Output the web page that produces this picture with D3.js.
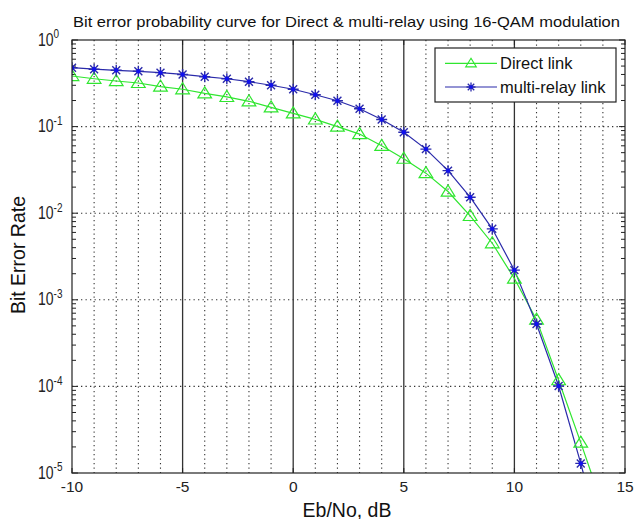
<!DOCTYPE html>
<html>
<head>
<meta charset="utf-8">
<script src="https://cdn.jsdelivr.net/npm/d3@7"></script>
<style>
html,body{margin:0;padding:0;background:#fff;}
svg{display:block;font-family:"Liberation Sans",Arial,sans-serif;}
</style>
</head>
<body>
<svg id="chart" width="635" height="519"></svg>
<script>
// ---- data ----
const ebno = [-10,-9,-8,-7,-6,-5,-4,-3,-2,-1,0,1,2,3,4,5,6,7,8,9,10,11,12,13,14];
const directLink = [0.384,0.357,0.336,0.319,0.29,0.27,0.242,0.22,0.196,0.167,0.142,0.121,0.100,0.082,0.060,0.0426,0.029,0.0178,0.0093,0.0045,0.00176,5.9e-4,1.18e-4,2.24e-5,4.1e-6];
const multiRelay = [0.479,0.46,0.447,0.435,0.42,0.40,0.377,0.357,0.33,0.30,0.27,0.233,0.199,0.161,0.121,0.086,0.055,0.031,0.0153,0.0066,0.0022,5.25e-4,1.01e-4,1.29e-5,1.4e-6];
const xTicks = [-10,-5,0,5,10,15];
const yExps = [0,-1,-2,-3,-4,-5];
const titleText = "Bit error probability curve for Direct & multi-relay using 16-QAM modulation";
const xLabel = "Eb/No, dB";
const yLabel = "Bit Error Rate";
const seriesNames = ["Direct link","multi-relay link"];

// ---- layout ----
const L = 72, R = 625, T = 40, B = 473;
const svg = d3.select("#chart");
const x = d3.scaleLinear().domain([-10,15]).range([L,R]);
const y = d3.scaleLog().domain([1e-5,1]).range([B,T]);

const green = "#2fe62f", blue = "#2a2aaa";

svg.append("rect").attr("width",635).attr("height",519).attr("fill","#fff");
svg.append("defs").append("clipPath").attr("id","clip")
  .append("rect").attr("x",L).attr("y",T).attr("width",R-L).attr("height",B-T);

// grid
const g = svg.append("g");
const intTicks = d3.range(-9,15);
g.selectAll("line.vd").data(intTicks.filter(d=>d%5!==0)).enter().append("line")
  .attr("x1",d=>x(d)).attr("x2",d=>x(d)).attr("y1",T).attr("y2",B)
  .attr("stroke","#333").attr("stroke-width",1.1).attr("stroke-dasharray","1.3,3.2");
g.selectAll("line.hd").data(yExps.slice(1,5)).enter().append("line")
  .attr("x1",L).attr("x2",R).attr("y1",d=>y(Math.pow(10,d))).attr("y2",d=>y(Math.pow(10,d)))
  .attr("stroke","#333").attr("stroke-width",1.1).attr("stroke-dasharray","1.3,3.2");
g.selectAll("line.vs").data([-5,0,5,10]).enter().append("line")
  .attr("x1",d=>x(d)).attr("x2",d=>x(d)).attr("y1",T).attr("y2",B)
  .attr("stroke","#333").attr("stroke-width",1.3);

// y ticks (major + minor) both sides
const minor = [];
for (let e=-5;e<0;e++) for (let m=2;m<=9;m++) minor.push(m*Math.pow(10,e));
const majors = yExps.map(e=>Math.pow(10,e));
[[L,1],[R,-1]].forEach(([x0,dir])=>{
  g.selectAll(null).data(minor).enter().append("line")
    .attr("x1",x0).attr("x2",x0+dir*4).attr("y1",d=>y(d)).attr("y2",d=>y(d))
    .attr("stroke","#222").attr("stroke-width",1);
  g.selectAll(null).data(majors).enter().append("line")
    .attr("x1",x0).attr("x2",x0+dir*6).attr("y1",d=>y(d)).attr("y2",d=>y(d))
    .attr("stroke","#222").attr("stroke-width",1);
});
[[B,-1],[T,1]].forEach(([y0,dir])=>{
  g.selectAll(null).data(xTicks).enter().append("line")
    .attr("x1",d=>x(d)).attr("x2",d=>x(d)).attr("y1",y0).attr("y2",y0+dir*5)
    .attr("stroke","#222").attr("stroke-width",1);
});

// series
const plot = svg.append("g").attr("clip-path","url(#clip)");
const line = d3.line().x(d=>x(d[0])).y(d=>y(d[1]));
const dataD = ebno.map((e,i)=>[e,directLink[i]]);
const dataM = ebno.map((e,i)=>[e,multiRelay[i]]);
plot.append("path").datum(dataD).attr("d",line).attr("fill","none").attr("stroke",green).attr("stroke-width",1.2);
plot.append("path").datum(dataM).attr("d",line).attr("fill","none").attr("stroke",blue).attr("stroke-width",1.2);

function triPath(s){ return `M0,${-s}L${s*1.05},${s*0.7}L${-s*1.05},${s*0.7}Z`; }
function starPath(s){ const d=s*0.72; return `M${-s},0L${s},0M0,${-s}L0,${s}M${-d},${-d}L${d},${d}M${-d},${d}L${d},${-d}`; }

plot.selectAll("path.tri").data(dataD).enter().append("path")
  .attr("transform",d=>`translate(${x(d[0])},${y(d[1])})`)
  .attr("d",triPath(6.5)).attr("fill","none").attr("stroke",green).attr("stroke-width",1.2);
plot.selectAll("path.star").data(dataM).enter().append("path")
  .attr("transform",d=>`translate(${x(d[0])},${y(d[1])})`)
  .attr("d",starPath(5.5)).attr("fill","none").attr("stroke",blue).attr("stroke-width",1.4);
plot.selectAll("circle.sc").data(dataM).enter().append("circle")
  .attr("cx",d=>x(d[0])).attr("cy",d=>y(d[1])).attr("r",2.2).attr("fill","#1010ee");

// frame
svg.append("rect").attr("x",L).attr("y",T).attr("width",R-L).attr("height",B-T)
  .attr("fill","none").attr("stroke","#222").attr("stroke-width",1.2);

// x tick labels
svg.selectAll("text.xt").data(xTicks).enter().append("text")
  .attr("x",d=>x(d)).attr("y",492).attr("text-anchor","middle")
  .attr("font-size",15.5).attr("fill","#222").text(d=>d);

// y tick labels
const yl = svg.selectAll("g.yt").data(yExps).enter().append("g")
  .attr("transform",d=>`translate(38,${y(Math.pow(10,d))+5.5}) scale(1,1.3)`);
const yt = yl.append("text").attr("font-size",14).attr("fill","#222");
yt.append("tspan").text("10");
yt.append("tspan").attr("font-size",10).attr("dy",-5.5).text(d=>d===0?"0":String(d));

// title and labels
svg.append("text").attr("x",346.5).attr("y",26.5).attr("text-anchor","middle")
  .attr("font-size",15).attr("fill","#111")
  .attr("textLength",547).attr("lengthAdjust","spacingAndGlyphs").text(titleText);
svg.append("text").attr("x",347).attr("y",516.5).attr("text-anchor","middle")
  .attr("font-size",19.5).attr("fill","#111").text(xLabel);
svg.append("text").attr("transform","translate(25,255) rotate(-90)").attr("text-anchor","middle")
  .attr("font-size",19.5).attr("fill","#111").text(yLabel);

// legend
const lg = svg.append("g");
lg.append("rect").attr("x",435).attr("y",48).attr("width",181).attr("height",54)
  .attr("fill","#fff").attr("stroke","#222").attr("stroke-width",1.2);
const lyD = 63.3, lyM = 87;
lg.append("line").attr("x1",445).attr("x2",497).attr("y1",lyD).attr("y2",lyD).attr("stroke",green).attr("stroke-width",1.2);
lg.append("path").attr("transform",`translate(471,${lyD})`).attr("d",triPath(5)).attr("fill","none").attr("stroke",green).attr("stroke-width",1.2);
lg.append("line").attr("x1",445).attr("x2",497).attr("y1",lyM).attr("y2",lyM).attr("stroke",blue).attr("stroke-width",1.2);
lg.append("path").attr("transform",`translate(471,${lyM})`).attr("d",starPath(4.5)).attr("fill","none").attr("stroke",blue).attr("stroke-width",1.3);
lg.append("circle").attr("cx",471).attr("cy",lyM).attr("r",1.8).attr("fill","#1010ee");
lg.append("text").attr("x",500).attr("y",68.5).attr("font-size",16.5).attr("fill","#111").text(seriesNames[0]);
lg.append("text").attr("x",500).attr("y",93).attr("font-size",16.5).attr("fill","#111").text(seriesNames[1]);
</script>
</body>
</html>
